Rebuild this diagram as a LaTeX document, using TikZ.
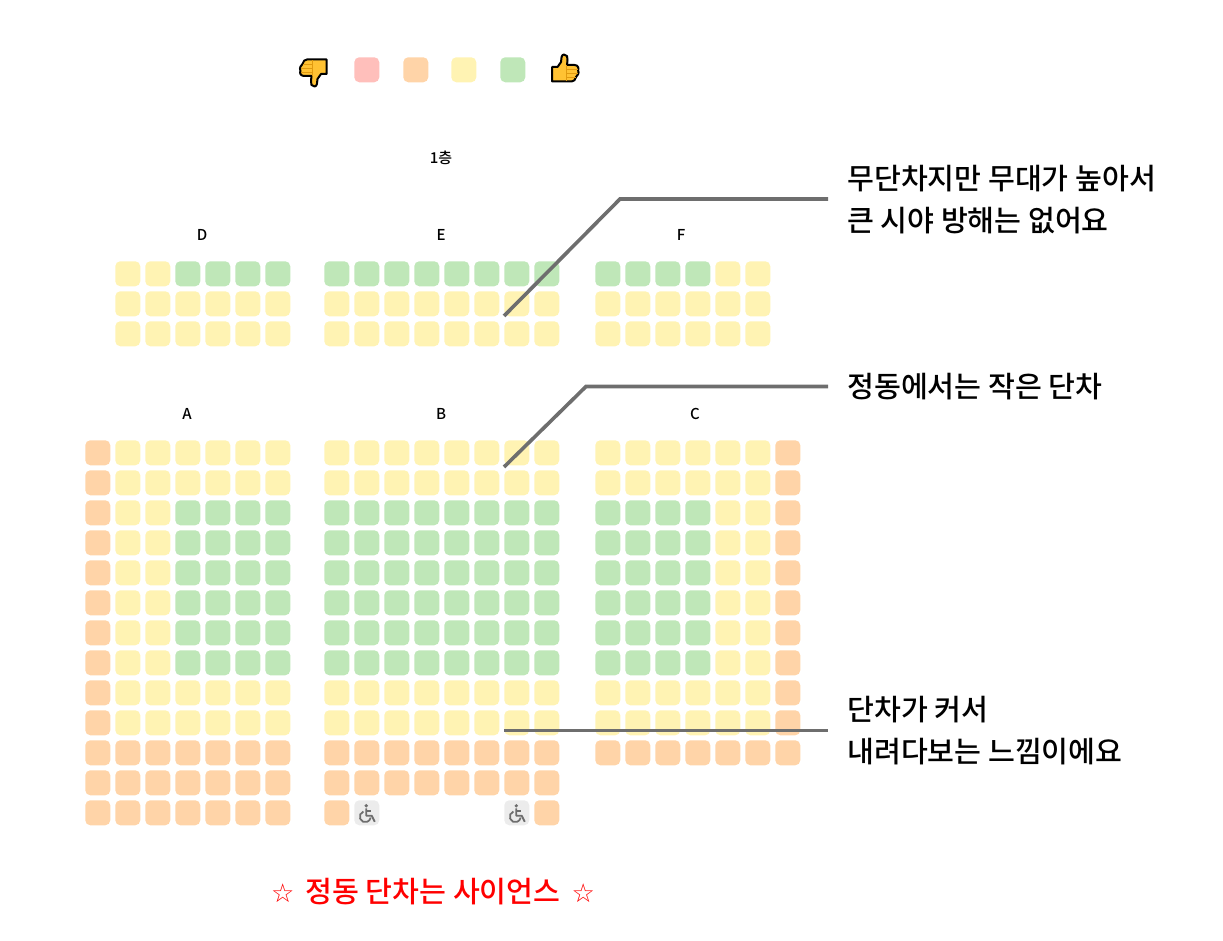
\documentclass[tikz,border=0pt]{standalone}
\usepackage{fontspec}
\usepackage{xcolor}
\setmainfont{Noto Sans CJK KR Medium}
\newfontfamily\symfont{DejaVu Sans}
\definecolor{seatred}{HTML}{FFBFBB}
\definecolor{seatorange}{HTML}{FFD4A8}
\definecolor{seatyellow}{HTML}{FFF3B3}
\definecolor{seatgreen}{HTML}{BFE7B8}
\definecolor{seatgrey}{HTML}{ECECEC}
\definecolor{leadgrey}{HTML}{6E6E6E}
\definecolor{thumbfill}{HTML}{FFC233}
\definecolor{thumbline}{HTML}{E09A10}
\tikzset{
  seat/.style={rectangle,inner sep=0pt,minimum size=18.75pt,rounded corners=3.75pt,anchor=north west},
  seatr/.style={seat,fill=seatred},
  seato/.style={seat,fill=seatorange},
  seaty/.style={seat,fill=seatyellow},
  seatg/.style={seat,fill=seatgreen},
  seatw/.style={seat,fill=seatgrey},
  section/.style={font=\fontsize{11.25}{13}\selectfont},
  note/.style={anchor=west,align=left,inner sep=0pt,font=\fontsize{21.9}{31.5}\selectfont},
  leader/.style={leadgrey,line width=2.7pt},
  thumb/.pic={
    \draw[fill=thumbfill,line width=1.5pt,line join=round]
      (-13.5,-1) -- (-8,-1) -- (-4.5,-6) .. controls (-4,-9) and (-4.5,-13.5) .. (-1.5,-13.5)
      .. controls (1.5,-13.5) and (2.5,-11) .. (2,-8) -- (1.5,-3) -- (9,-3)
      .. controls (13,-3) and (13.5,1) .. (12.5,2) .. controls (14,5) and (12,8) .. (10.5,9)
      .. controls (10,12) and (8,13.5) .. (6,13.5) -- (-13.5,13.5) -- cycle;
    \draw[thumbline,line width=0.7pt] (0.5,1) -- (12,1) (0.5,5) -- (12,5) (0.5,9) -- (10,9)
      (0.5,-3) -- (0.5,13);
  },
  chair/.pic={
    \fill[leadgrey] (-0.5,-7) circle (1.8);
    \draw[leadgrey,line width=1.4pt,line join=round] (-0.5,-4.5) -- (-0.5,3) -- (5,3) -- (8,9);
    \draw[leadgrey,line width=1.3pt] (-0.5,-1.5) -- (4,-1.5);
    \draw[leadgrey,line width=1.3pt] (-3.4,-1.2) arc (110:350:4.1pt);
  }
}
% name, left edge, top edge, rows of seats
\newcommand{\seatblock}[4]{
  \foreach \seatrow [count=\r from 0] in {#4} {
    \foreach \c [count=\k from 0] in \seatrow {
      \if\c n\else
        \node[seat\c] (#1-\r-\k) at ({#2+30*\k},{#3+30*\r}) {};
      \fi
    }
  }
}
\begin{document}
\begin{tikzpicture}[x=0.75pt,y=-0.75pt]
\useasboundingbox (0,0) rectangle (1223,941);

% legend
\pic[rotate=180] (down) at (313,73) {thumb};
\node[seatr] (legr) at (354,57) {};
\node[seato] (lego) at (403,57) {};
\node[seaty] (legy) at (451,57) {};
\node[seatg] (legg) at (500,57) {};
\pic (up) at (565.5,68) {thumb};

\node[section] (floor) at (441,158) {1층};
\node[section] (labD) at (202,235) {D};
\node[section] (labE) at (441,235) {E};
\node[section] (labF) at (681,235) {F};
\node[section] (labA) at (187,414) {A};
\node[section] (labB) at (441,414) {B};
\node[section] (labC) at (695,414) {C};

\seatblock{D}{115}{261}{{y,y,g,g,g,g},{y,y,y,y,y,y},{y,y,y,y,y,y}}
\seatblock{E}{324}{261}{{g,g,g,g,g,g,g,g},{y,y,y,y,y,y,y,y},{y,y,y,y,y,y,y,y}}
\seatblock{F}{595}{261}{{g,g,g,g,y,y},{y,y,y,y,y,y},{y,y,y,y,y,y}}
\seatblock{A}{85}{440}{{o,y,y,y,y,y,y},{o,y,y,y,y,y,y},
  {o,y,y,g,g,g,g},{o,y,y,g,g,g,g},{o,y,y,g,g,g,g},{o,y,y,g,g,g,g},{o,y,y,g,g,g,g},{o,y,y,g,g,g,g},
  {o,y,y,y,y,y,y},{o,y,y,y,y,y,y},
  {o,o,o,o,o,o,o},{o,o,o,o,o,o,o},{o,o,o,o,o,o,o}}
\seatblock{B}{324}{440}{{y,y,y,y,y,y,y,y},{y,y,y,y,y,y,y,y},
  {g,g,g,g,g,g,g,g},{g,g,g,g,g,g,g,g},{g,g,g,g,g,g,g,g},{g,g,g,g,g,g,g,g},{g,g,g,g,g,g,g,g},{g,g,g,g,g,g,g,g},
  {y,y,y,y,y,y,y,y},{y,y,y,y,y,y,y,y},
  {o,o,o,o,o,o,o,o},{o,o,o,o,o,o,o,o},{o,w,n,n,n,n,w,o}}
\seatblock{C}{595}{440}{{y,y,y,y,y,y,o},{y,y,y,y,y,y,o},
  {g,g,g,g,y,y,o},{g,g,g,g,y,y,o},{g,g,g,g,y,y,o},{g,g,g,g,y,y,o},{g,g,g,g,y,y,o},{g,g,g,g,y,y,o},
  {y,y,y,y,y,y,o},{y,y,y,y,y,y,o},
  {o,o,o,o,o,o,o}}

\pic at (B-12-1.center) {chair};
\pic at (B-12-6.center) {chair};

% notes and their leaders
\coordinate (tipa) at (504,316);
\coordinate (benda) at (620,199);
\coordinate (enda) at (828,199);
\coordinate (tipb) at (504,467);
\coordinate (bendb) at (586,386.5);
\coordinate (endb) at (828,386.5);
\coordinate (tipc) at (504,730.5);
\coordinate (endc) at (828,730.5);
\draw[leader] (tipa) -- (benda) -- (enda);
\draw[leader] (tipb) -- (bendb) -- (endb);
\draw[leader] (tipc) -- (endc);

\node[note] (notea) at (847,199.5) {무단차지만 무대가 높아서\\큰 시야 방해는 없어요};
\node[note] (noteb) at (847,387) {정동에서는 작은 단차};
\node[note] (notec) at (847,730.5) {단차가 커서\\내려다보는 느낌이에요};

\node[inner sep=0pt,text=red,font=\fontsize{21.9}{26}\selectfont] (slogan) at (433,892)
  {{\symfont\fontsize{19.5}{26}\selectfont ☆}\hspace{3.5pt} 정동 단차는 사이언스 \hspace{3.5pt}{\symfont\fontsize{19.5}{26}\selectfont ☆}};
\end{tikzpicture}
\end{document}
